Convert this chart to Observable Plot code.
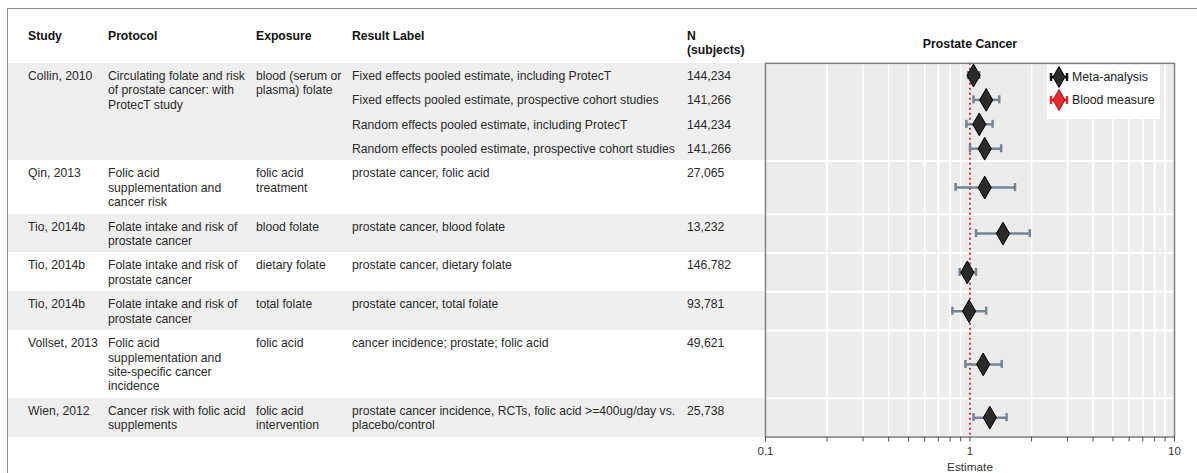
<!DOCTYPE html>
<html><head><meta charset="utf-8">
<script src="https://cdn.jsdelivr.net/npm/d3@7"></script>
<script src="https://cdn.jsdelivr.net/npm/@observablehq/plot@0.6"></script>
<style>
html,body{margin:0;padding:0;background:#fff;}
#wrap{position:relative;width:1197px;height:473px;overflow:hidden;font-family:"Liberation Sans",Arial,Helvetica,sans-serif;}
#border{position:absolute;left:7px;top:8px;width:1210px;height:480px;border-top:1.5px solid #8c8c8c;border-left:1.5px solid #8c8c8c;}
table{position:absolute;left:8px;top:22px;border-collapse:collapse;table-layout:fixed;width:757px;font-size:12.2px;color:#2a2a2a;}
td,th{padding:6px 4px 4px 0;line-height:14.4px;vertical-align:top;text-align:left;white-space:pre;}
th{font-weight:bold;color:#111;padding:7px 4px 5px 0;}
.first{padding-left:20px;}
tr.gray td{background:#efefef;}
#legend{position:absolute;left:1047px;top:65px;width:113px;height:54px;background:#fff;}
.item{position:absolute;left:2px;height:24px;display:flex;align-items:center;font-size:12.3px;color:#222;}
.item svg{margin-right:3px;}
</style>
</head><body>
<div id="wrap"><div id="border"></div></div>
<script>
// ---- data ----
const study = ["Collin, 2010","Collin, 2010","Collin, 2010","Collin, 2010","Qin, 2013","Tio, 2014b","Tio, 2014b","Tio, 2014b","Vollset, 2013","Wien, 2012"];
const protocol = [
  "Circulating folate and risk\nof prostate cancer: with\nProtecT study",
  "Circulating folate and risk\nof prostate cancer: with\nProtecT study",
  "Circulating folate and risk\nof prostate cancer: with\nProtecT study",
  "Circulating folate and risk\nof prostate cancer: with\nProtecT study",
  "Folic acid\nsupplementation and\ncancer risk",
  "Folate intake and risk of\nprostate cancer",
  "Folate intake and risk of\nprostate cancer",
  "Folate intake and risk of\nprostate cancer",
  "Folic acid\nsupplementation and\nsite-specific cancer\nincidence",
  "Cancer risk with folic acid\nsupplements"
];
const exposure = [
  "blood (serum or\nplasma) folate","blood (serum or\nplasma) folate","blood (serum or\nplasma) folate","blood (serum or\nplasma) folate",
  "folic acid\ntreatment","blood folate","dietary folate","total folate","folic acid","folic acid\nintervention"
];
const resultLabel = [
  "Fixed effects pooled estimate, including ProtecT",
  "Fixed effects pooled estimate, prospective cohort studies",
  "Random effects pooled estimate, including ProtecT",
  "Random effects pooled estimate, prospective cohort studies",
  "prostate cancer, folic acid",
  "prostate cancer, blood folate",
  "prostate cancer, dietary folate",
  "prostate cancer, total folate",
  "cancer incidence; prostate; folic acid",
  "prostate cancer incidence, RCTs, folic acid >=400ug/day vs.\nplacebo/control"
];
const nSubjects = ["144,234","141,266","144,234","141,266","27,065","13,232","146,782","93,781","49,621","25,738"];
const estimate = [1.04, 1.20, 1.11, 1.18, 1.18, 1.45, 0.97, 0.99, 1.16, 1.25];
const lower    = [0.98, 1.04, 0.96, 1.00, 0.85, 1.07, 0.89, 0.82, 0.95, 1.04];
const upper    = [1.11, 1.39, 1.29, 1.42, 1.66, 1.96, 1.07, 1.20, 1.43, 1.51];
const headers = ["Study","Protocol","Exposure","Result Label","N\n(subjects)"];
const legendLabels = ["Meta-analysis","Blood measure"];
const plotTitle = "Prostate Cancer";
const xLabel = "Estimate";

// ---- table ----
const wrap = document.getElementById("wrap");
const rows = study.map((s,i)=>({study:s, protocol:protocol[i], exposure:exposure[i], label:resultLabel[i], n:nSubjects[i], est:estimate[i], lo:lower[i], hi:upper[i], key:s+"|"+protocol[i]+"|"+exposure[i]}));
const groups = [];
rows.forEach(r=>{ const g=groups[groups.length-1]; if(g && g.key===r.key) g.rows.push(r); else groups.push({key:r.key, rows:[r]}); });

const table = document.createElement("table");
const cg = document.createElement("colgroup");
[100,148,96,335,78].forEach(w=>{const c=document.createElement("col"); c.style.width=w+"px"; cg.appendChild(c);});
table.appendChild(cg);
const thead = document.createElement("thead");
const htr = document.createElement("tr");
headers.forEach((h,j)=>{const th=document.createElement("th"); th.textContent=h; if(j===0) th.className="first"; htr.appendChild(th);});
thead.appendChild(htr); table.appendChild(thead);
const tbody = document.createElement("tbody");
table.appendChild(tbody);
const trs = [];
const groupFirstTr = [];
groups.forEach((g,gi)=>{
  g.rows.forEach((r,k)=>{
    const tr=document.createElement("tr");
    if(gi%2===0) tr.className="gray";
    if(k===0){
      const span=g.rows.length;
      [[r.study,"first"],[r.protocol,""],[r.exposure,""]].forEach(([t,c])=>{const td=document.createElement("td"); td.textContent=t; td.rowSpan=span; if(c) td.className=c; tr.appendChild(td);});
      groupFirstTr.push(tr);
    }
    [r.label, r.n].forEach(t=>{const td=document.createElement("td"); td.textContent=t; tr.appendChild(td);});
    tbody.appendChild(tr); trs.push(tr);
  });
});
wrap.appendChild(table);

// ---- measure ----
const wb = wrap.getBoundingClientRect();
const tb = tbody.getBoundingClientRect();
const top0 = tb.top - wb.top;
const H = tb.height;
rows.forEach((r,i)=>{const b=trs[i].getBoundingClientRect(); r.y=(b.top+b.bottom)/2 - tb.top;});
const boundaries = groupFirstTr.slice(1).map(tr=>tr.getBoundingClientRect().top - tb.top);

// ---- plot ----
const ticksAll = [];
[0.1,1].forEach(d=>{for(let k=1;k<=9;k++) ticksAll.push(d*k);});
ticksAll.push(10);
const isMajor = d=>{const l=Math.log10(d); return Math.abs(l-Math.round(l))<1e-6;};
const fmt = d=> isMajor(d) ? d3.format("~g")(+d.toPrecision(3)) : "";
const cap = 4;
const plotLeft = 740, plotW = 457, mBottom = 36;
const svg = Plot.plot({
  width: plotW,
  height: top0 + H + mBottom,
  marginLeft: 25, marginRight: 23, marginTop: top0, marginBottom: mBottom,
  style: {fontFamily: '"Liberation Sans",Arial,Helvetica,sans-serif', fontSize: "11.5px", color: "#444", background: "transparent", overflow: "visible"},
  x: {type: "log", domain: [0.1, 10]},
  y: {domain: [0, H], reverse: true, axis: null},
  marks: [
    Plot.frame({fill: "#ececec", stroke: null}),
    Plot.ruleX(ticksAll, {stroke: "#fff", strokeWidth: 1.6}),
    Plot.ruleY(boundaries, {stroke: "#fff", strokeWidth: 2}),
    Plot.ruleX([1], {stroke: "#e8262b", strokeWidth: 2, strokeDasharray: "2,3"}),
    Plot.ruleY(rows, {y: "y", x1: "lo", x2: "hi", stroke: "#738596", strokeWidth: 2.5}),
    Plot.ruleX(rows, {x: "lo", y1: d=>d.y-cap, y2: d=>d.y+cap, stroke: "#738596", strokeWidth: 2.5}),
    Plot.ruleX(rows, {x: "hi", y1: d=>d.y-cap, y2: d=>d.y+cap, stroke: "#738596", strokeWidth: 2.5}),
    Plot.dot(rows, {x: "est", y: "y", symbol: d3.symbolDiamond, r: 6.9, fill: "#2b2b2b", stroke: "#000", strokeWidth: 1}),
    Plot.frame({stroke: "#808080", strokeWidth: 1.5}),
    Plot.axisX(ticksAll, {tickFormat: fmt, tickSize: 5, tickPadding: 5, label: null, stroke: "#555", fill: "#333"}),
    Plot.text([plotTitle], {frameAnchor: "top", dy: -24, fontWeight: "bold", fontSize: 12.3, fill: "#111"}),
    Plot.text([xLabel], {frameAnchor: "bottom", lineAnchor: "middle", dy: 30, fontSize: 11.8, fill: "#333"})
  ]
});
svg.style.position = "absolute";
svg.style.left = plotLeft + "px";
svg.style.top = "0px";
wrap.appendChild(svg);

// ---- legend ----
const legend = document.createElement("div");
legend.id = "legend";
const legendStyles = [{bar:"#111", fill:"#2b2b2b", stroke:"#000"},{bar:"#e8262b", fill:"#e8262b", stroke:"#b01010"}];
legendLabels.forEach((lab,i)=>{
  const it=document.createElement("div"); it.className="item"; it.style.top=(i*22.6)+"px";
  const st=legendStyles[i];
  const s=d3.create("svg").attr("width",20).attr("height",24);
  s.append("line").attr("x1",2).attr("x2",18).attr("y1",12).attr("y2",12).attr("stroke",st.bar).attr("stroke-width",2.5);
  [2,18].forEach(x=>s.append("line").attr("x1",x).attr("x2",x).attr("y1",8).attr("y2",16).attr("stroke",st.bar).attr("stroke-width",2.5));
  s.append("path").attr("d",d3.symbol(d3.symbolDiamond,125)()).attr("transform","translate(10,12)").attr("fill",st.fill).attr("stroke",st.stroke);
  it.appendChild(s.node());
  const sp=document.createElement("span"); sp.textContent=lab; it.appendChild(sp);
  legend.appendChild(it);
});
wrap.appendChild(legend);
</script>
</body></html>
